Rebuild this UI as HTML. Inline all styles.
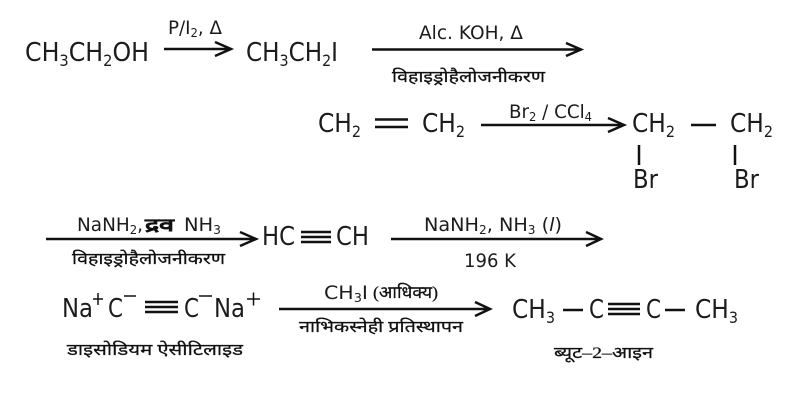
<!DOCTYPE html>
<html><head><meta charset="utf-8"><style>
html,body{margin:0;padding:0;background:#fff}
svg{display:block}
text{font-family:"DejaVu Sans","Liberation Sans",sans-serif;fill:#1c1c1c}
.m{font-size:26px}.s{font-size:19px}
.h{font-family:"Liberation Serif","Noto Serif CJK SC",serif;font-size:16px;font-weight:normal;fill:#111;stroke:#111;stroke-width:.25px}
path{stroke:#111;fill:none}
</style></head><body>
<svg width="796" height="402" viewBox="0 0 796 402" xmlns="http://www.w3.org/2000/svg">
<g stroke-width="2.5">
<path d="M164 49H231M215 42L231 49L215 56"/>
<path d="M372 49.500H581M566 43L581 49.500L566 56"/>
<path d="M481 125H624M608 118L624 125L608 132"/>
<path d="M46 239H256M240 232L256 239L240 246"/>
<path d="M391 239H601M586 232L601 239L586 246"/>
<path d="M279 309H490M475 302L490 309L475 316"/>
<path d="M375 119.500H408M375 127H408"/>
<path d="M691 125H716M639 145V165M735 145V165"/>
<path d="M301 232H331M301 237H331M301 242H331"/>
<path d="M145 302H178M145 307H178M145 312H178"/>
<path d="M563 310H583M608 304H640M608 309H640M608 314H640M665 310H685"/>
</g>
<path stroke-width="1.500" d="M124 296H136M199 296H212M93 299H103M98 293V305M247 299H260M253.500 292.500V305.500"/>
<text class="m" x="25" y="61" textLength="124" lengthAdjust="spacingAndGlyphs">CH<tspan font-size="16" dy="5">3</tspan><tspan dy="-5">CH</tspan><tspan font-size="16" dy="5">2</tspan><tspan dy="-5">OH</tspan></text>
<text class="m" x="246" y="61" textLength="92" lengthAdjust="spacingAndGlyphs">CH<tspan font-size="16" dy="5">3</tspan><tspan dy="-5">CH</tspan><tspan font-size="16" dy="5">2</tspan><tspan dy="-5">I</tspan></text>
<text class="s" x="168" y="34" textLength="54" lengthAdjust="spacingAndGlyphs">P/I<tspan font-size="12" dy="3">2</tspan><tspan dy="-3">, Δ</tspan></text>
<text class="s" x="419" y="39" textLength="104" lengthAdjust="spacingAndGlyphs">Alc. KOH, Δ</text>
<text class="h" x="392" y="82" textLength="153" lengthAdjust="spacingAndGlyphs">विहाइड्रोहैलोजनीकरण</text>
<text class="m" x="318" y="132" textLength="43" lengthAdjust="spacingAndGlyphs">CH<tspan font-size="16" dy="5">2</tspan></text>
<text class="m" x="422" y="132" textLength="43" lengthAdjust="spacingAndGlyphs">CH<tspan font-size="16" dy="5">2</tspan></text>
<text class="s" x="509" y="118" textLength="83" lengthAdjust="spacingAndGlyphs">Br<tspan font-size="12" dy="3">2</tspan><tspan dy="-3"> / CCl</tspan><tspan font-size="12" dy="3">4</tspan></text>
<text class="m" x="632" y="132" textLength="43" lengthAdjust="spacingAndGlyphs">CH<tspan font-size="16" dy="5">2</tspan></text>
<text class="m" x="730" y="132" textLength="43" lengthAdjust="spacingAndGlyphs">CH<tspan font-size="16" dy="5">2</tspan></text>
<text class="m" x="633" y="188" textLength="25" lengthAdjust="spacingAndGlyphs">Br</text>
<text class="m" x="734" y="188" textLength="25" lengthAdjust="spacingAndGlyphs">Br</text>
<text class="s" x="77" y="231" textLength="66" lengthAdjust="spacingAndGlyphs">NaNH<tspan font-size="12" dy="3">2</tspan><tspan dy="-3">,</tspan></text>
<text class="h" x="145" y="231" style="font-size:18px;font-weight:bold" textLength="29" lengthAdjust="spacingAndGlyphs">द्रव</text>
<text class="s" x="184" y="231" textLength="37" lengthAdjust="spacingAndGlyphs">NH<tspan font-size="12" dy="3">3</tspan></text>
<text class="h" x="72" y="264" textLength="153" lengthAdjust="spacingAndGlyphs">विहाइड्रोहैलोजनीकरण</text>
<text class="m" x="262" y="245" textLength="33" lengthAdjust="spacingAndGlyphs">HC</text>
<text class="m" x="336" y="245" textLength="33" lengthAdjust="spacingAndGlyphs">CH</text>
<text class="s" x="424" y="231" textLength="138" lengthAdjust="spacingAndGlyphs">NaNH<tspan font-size="12" dy="3">2</tspan><tspan dy="-3">,  NH</tspan><tspan font-size="12" dy="3">3</tspan><tspan dy="-3"> (</tspan><tspan font-style="italic">l</tspan>)</text>
<text class="s" x="464" y="267" textLength="52" lengthAdjust="spacingAndGlyphs">196 K</text>
<text class="m" x="62" y="317" textLength="31" lengthAdjust="spacingAndGlyphs">Na</text>
<text class="m" x="108" y="317" textLength="15" lengthAdjust="spacingAndGlyphs">C</text>
<text class="m" x="184" y="317" textLength="15" lengthAdjust="spacingAndGlyphs">C</text>
<text class="m" x="214" y="317" textLength="31" lengthAdjust="spacingAndGlyphs">Na</text>
<text class="h" x="67" y="355" textLength="176" lengthAdjust="spacingAndGlyphs">डाइसोडियम ऐसीटिलाइड</text>
<text class="s" x="324" y="299" textLength="44" lengthAdjust="spacingAndGlyphs">CH<tspan font-size="12" dy="3">3</tspan><tspan dy="-3">I</tspan></text>
<text class="h" x="373" y="298" style="font-size:17px" textLength="65" lengthAdjust="spacingAndGlyphs">(आधिक्य)</text>
<text class="h" x="299" y="332" textLength="164" lengthAdjust="spacingAndGlyphs">नाभिकस्नेही प्रतिस्थापन</text>
<text class="m" x="512" y="318" textLength="43" lengthAdjust="spacingAndGlyphs">CH<tspan font-size="16" dy="5">3</tspan></text>
<text class="m" x="589" y="318" textLength="15" lengthAdjust="spacingAndGlyphs">C</text>
<text class="m" x="646" y="318" textLength="15" lengthAdjust="spacingAndGlyphs">C</text>
<text class="m" x="695" y="318" textLength="43" lengthAdjust="spacingAndGlyphs">CH<tspan font-size="16" dy="5">3</tspan></text>
<text class="h" x="554" y="358" textLength="99" lengthAdjust="spacingAndGlyphs">ब्यूट–2–आइन</text>
</svg>
</body></html>
